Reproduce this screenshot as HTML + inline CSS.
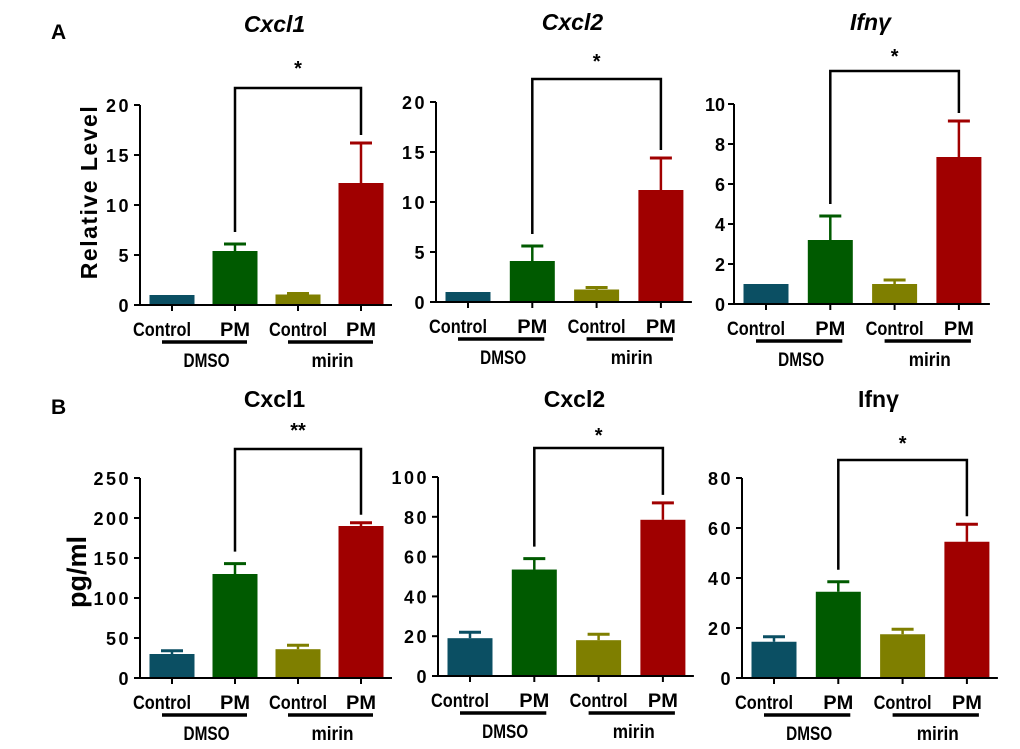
<!DOCTYPE html>
<html><head><meta charset="utf-8"><style>
html,body{margin:0;padding:0;background:#fff;}
svg{display:block;font-family:"Liberation Sans",sans-serif;}
</style></head><body>
<svg id="fig" width="1020" height="749" viewBox="0 0 1020 749">
<text x="51" y="39" font-size="21" font-weight="bold">A</text>
<text x="51" y="414" font-size="21" font-weight="bold">B</text>
<text transform="translate(97,192) rotate(-90)" text-anchor="middle" font-size="23" font-weight="bold" letter-spacing="1.5">Relative  Level</text>
<text transform="translate(86,572) rotate(-90)" text-anchor="middle" font-size="27" font-weight="bold">pg/ml</text>
</svg>
<script>
const categories = ["Control","PM","Control","PM"];
const groups = ["DMSO","mirin"];
const colors = ["#0b4f63","#005a00","#7f7f00","#a00000"];

const a1Values = [1.0, 5.4, 1.05, 12.2];
const a1Errors = [0, 0.7, 0.1, 4.0];
const a1Ticks = [0,5,10,15,20];
const a2Values = [1.0, 4.1, 1.25, 11.2];
const a2Errors = [0, 1.5, 0.2, 3.2];
const a2Ticks = [0,5,10,15,20];
const a3Values = [1.0, 3.2, 1.0, 7.35];
const a3Errors = [0, 1.2, 0.2, 1.8];
const a3Ticks = [0,2,4,6,8,10];
const b1Values = [30, 130, 36, 190];
const b1Errors = [4, 13, 5, 4];
const b1Ticks = [0,50,100,150,200,250];
const b2Values = [19, 53.5, 18, 78.5];
const b2Errors = [3, 5.5, 3, 8.5];
const b2Ticks = [0,20,40,60,80,100];
const b3Values = [14.5, 34.5, 17.5, 54.5];
const b3Errors = [2, 4, 2, 7];
const b3Ticks = [0,20,40,60,80];
const titles = ["Cxcl1","Cxcl2","Ifnγ","Cxcl1","Cxcl2","Ifnγ"];
const stars = ["*","*","*","**","*","*"];

const NS="http://www.w3.org/2000/svg";
const svg=document.getElementById('fig');
function mk(tag,attrs,parent){const e=document.createElementNS(NS,tag);for(const k in attrs)e.setAttribute(k,attrs[k]);(parent||svg).appendChild(e);return e;}

const panels=[
 {id:'a1',v:a1Values,e:a1Errors,t:a1Ticks,ax:140,y0:305,ytop:105,step:63,bt:88,italic:true,ty:32,sy:75,tsp:true},
 {id:'a2',v:a2Values,e:a2Errors,t:a2Ticks,ax:436,y0:302,ytop:102,step:64.3,bt:79,italic:true,ty:30,sy:68,tsp:true},
 {id:'a3',v:a3Values,e:a3Errors,t:a3Ticks,ax:734,y0:304,ytop:104,step:64.3,bt:71,italic:true,ty:30,sy:63,tsp:false},
 {id:'b1',v:b1Values,e:b1Errors,t:b1Ticks,ax:140,y0:678,ytop:478,step:63,bt:449,italic:false,ty:407,sy:437,tsp:true},
 {id:'b2',v:b2Values,e:b2Errors,t:b2Ticks,ax:438,y0:676,ytop:477,step:64.3,bt:448,italic:false,ty:407,sy:442,tsp:true},
 {id:'b3',v:b3Values,e:b3Errors,t:b3Ticks,ax:742,y0:678,ytop:478,step:64.3,bt:460,italic:false,ty:407,sy:450,tsp:true}
];

panels.forEach((p,pi)=>{
  const g=mk('g',{});
  
  
  const max=p.t[p.t.length-1];
  const y=v=>p.y0-(v/max)*(p.y0-p.ytop);
  const cx=i=>p.ax+32+i*p.step;
  const bw=45;
  p.v.forEach((v,i)=>{
    const top=y(v+p.e[i]);
    if(p.e[i]>0){
      const el=mk('line',{x1:cx(i),x2:cx(i),y1:y(v),y2:top,stroke:colors[i],'stroke-width':2.5},g);
      
      
      const cap=mk('line',{x1:cx(i)-11,x2:cx(i)+11,y1:top,y2:top,stroke:colors[i],'stroke-width':3},g);
      
      
    }
    const r=mk('rect',{x:cx(i)-bw/2,y:y(v),width:bw,height:p.y0-y(v),fill:colors[i]},g);
    
    
  });
  const yl=mk('line',{x1:p.ax,x2:p.ax,y1:p.ytop,y2:p.y0+1,stroke:'#000','stroke-width':2},g);
  
  
  const xl=mk('line',{x1:p.ax-1,x2:cx(3)+31,y1:p.y0,y2:p.y0,stroke:'#000','stroke-width':2},g);
  
  
  p.t.forEach(t=>{
    mk('line',{x1:p.ax-6,x2:p.ax,y1:y(t),y2:y(t),stroke:'#000','stroke-width':2},g);
    const tx=mk('text',{x:p.ax-9,y:y(t)+7,'text-anchor':'end','font-size':18,'font-weight':'bold','letter-spacing':p.tsp?'2.5':'0'},g);
    tx.textContent=String(t);
    
    
  });
  categories.forEach((c,i)=>{
    mk('line',{x1:cx(i),x2:cx(i),y1:p.y0,y2:p.y0+6,stroke:'#000','stroke-width':2},g);
    const w=c==='Control'?58:30;
    const tx=mk('text',{x:cx(i)-(i===0?10:0),y:p.y0+31,'text-anchor':'middle','font-size':19,'font-weight':'bold',textLength:w,lengthAdjust:'spacingAndGlyphs'},g);
    tx.textContent=c;
    
    
  });
  groups.forEach((gr,k)=>{
    const x1=cx(2*k)-10, x2=cx(2*k+1)+12;
    const ul=mk('line',{x1:x1,x2:x2,y1:p.y0+37,y2:p.y0+37,stroke:'#000','stroke-width':3.5},g);
    
    
    const tx=mk('text',{x:(x1+x2)/2+2,y:p.y0+62,'text-anchor':'middle','font-size':19,'font-weight':'bold',textLength:gr==='DMSO'?46:42,lengthAdjust:'spacingAndGlyphs'},g);
    tx.textContent=gr;
    
    
  });
  const l=y(p.v[1]+p.e[1])-12, r=y(p.v[3]+p.e[3])-8;
  const br=mk('path',{d:`M${cx(1)},${l} V${p.bt} H${cx(3)} V${r}`,fill:'none',stroke:'#000','stroke-width':2.5},g);
  
  
  const st=mk('text',{x:(cx(1)+cx(3))/2,y:p.sy,'text-anchor':'middle','font-size':20,'font-weight':'bold'},g);
  st.textContent=stars[pi];
  
  
  const ti=mk('text',{x:(cx(0)+cx(3))/2+8,y:p.ty,'text-anchor':'middle','font-size':23,'font-weight':'bold','font-style':p.italic?'italic':'normal'},g);
  ti.textContent=titles[pi];
  
  
});
</script>
</body></html>
